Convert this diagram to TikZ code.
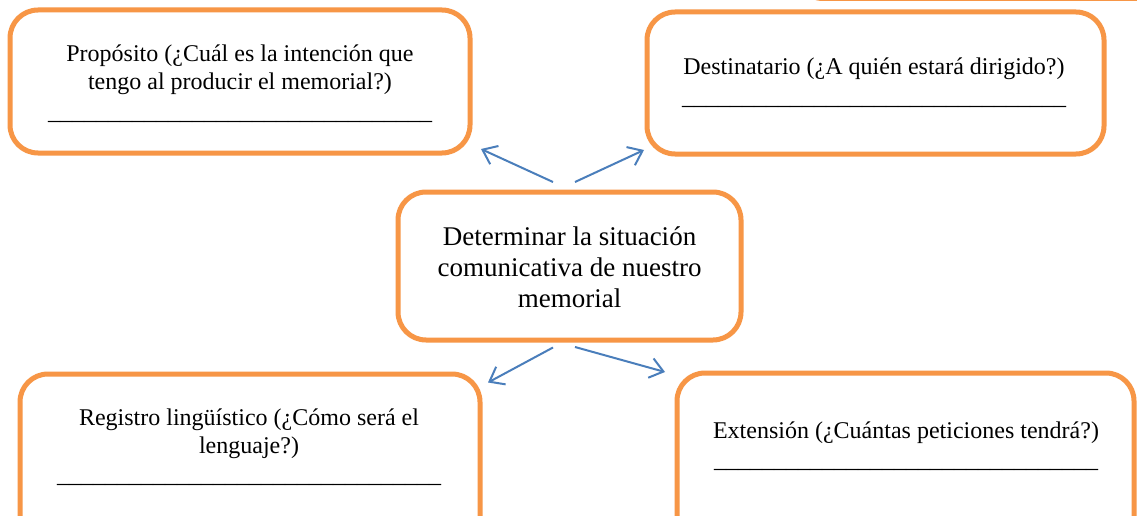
\documentclass[tikz,border=0pt]{standalone}
\usepackage{fontspec}
\setmainfont{Liberation Serif}
\usetikzlibrary{arrows.meta}
\definecolor{boxorange}{HTML}{F79646}
\definecolor{arrowblue}{HTML}{4A7EBB}
\newcommand\rayita{\_\_\_\_\_\_\_\_\_\_\_\_\_\_\_\_\_\_\_\_\_\_\_\_\_\_\_\_\_\_\_\_}
\tikzset{
  box/.style={draw=boxorange, line width=5pt, rounded corners=28pt, fill=white, inner sep=0pt},
  txt/.style={align=center, inner sep=0pt, anchor=base, font=\fontsize{24}{28.5}\selectfont},
  bigtxt/.style={align=center, inner sep=0pt, anchor=base, font=\fontsize{27}{31}\selectfont},
  conn/.style={draw=arrowblue, line width=2pt, -{Straight Barb[length=13pt,width=20pt,line width=2pt]}}
}
\begin{document}
\begin{tikzpicture}[x=1pt,y=-1pt]
\useasboundingbox (0,0) rectangle (1137,516);
\fill[white] (0,0) rectangle (1137,516);
\begin{scope}
\clip (0,0) rectangle (1137,516);
% partial box at top right (cut off)
\node[box, minimum width=420pt, minimum height=200pt] (topcut) at (1005,-101.5) {};
% boxes
\node[box, minimum width=460pt, minimum height=143pt] (prop) at (240,81.5) {};
\node[box, minimum width=457pt, minimum height=142pt] (dest) at (875.5,83) {};
\node[box, minimum width=343pt, minimum height=148pt] (centro) at (569.5,266) {};
\node[box, minimum width=460pt, minimum height=226pt] (reg) at (250,487) {};
\node[box, minimum width=457pt, minimum height=226pt] (ext) at (905.5,486) {};
\end{scope}
% texts (base anchor = baseline of the last line)
\node[txt] (prop-t) at (240,120) {Propósito (¿Cuál es la intención que\\ tengo al producir el memorial?)\\[1.5pt] \rayita};
\node[txt] (dest-t) at (874,105) {Destinatario (¿A quién estará dirigido?)\\[1.5pt] \rayita};
\node[bigtxt] (centro-t) at (569.5,307) {Determinar la situación\\ comunicativa de nuestro\\ memorial};
\node[txt] (reg-t) at (249,482) {Registro lingüístico (¿Cómo será el\\ lenguaje?)\\[0pt] \rayita};
\node[txt] (ext-t) at (906,467) {Extensión (¿Cuántas peticiones tendrá?)\\[0pt] \rayita};
% connector end points
\coordinate (a1s) at (553,182);
\coordinate (a1e) at (481,149);
\coordinate (a2s) at (575,182);
\coordinate (a2e) at (644,150);
\coordinate (a3s) at (553,347.5);
\coordinate (a3e) at (488,382.5);
\coordinate (a4s) at (575,347);
\coordinate (a4e) at (665,372);
\draw[conn] (a1s) -- (a1e);
\draw[conn] (a2s) -- (a2e);
\draw[conn] (a3s) -- (a3e);
\draw[conn] (a4s) -- (a4e);
\end{tikzpicture}
\end{document}
